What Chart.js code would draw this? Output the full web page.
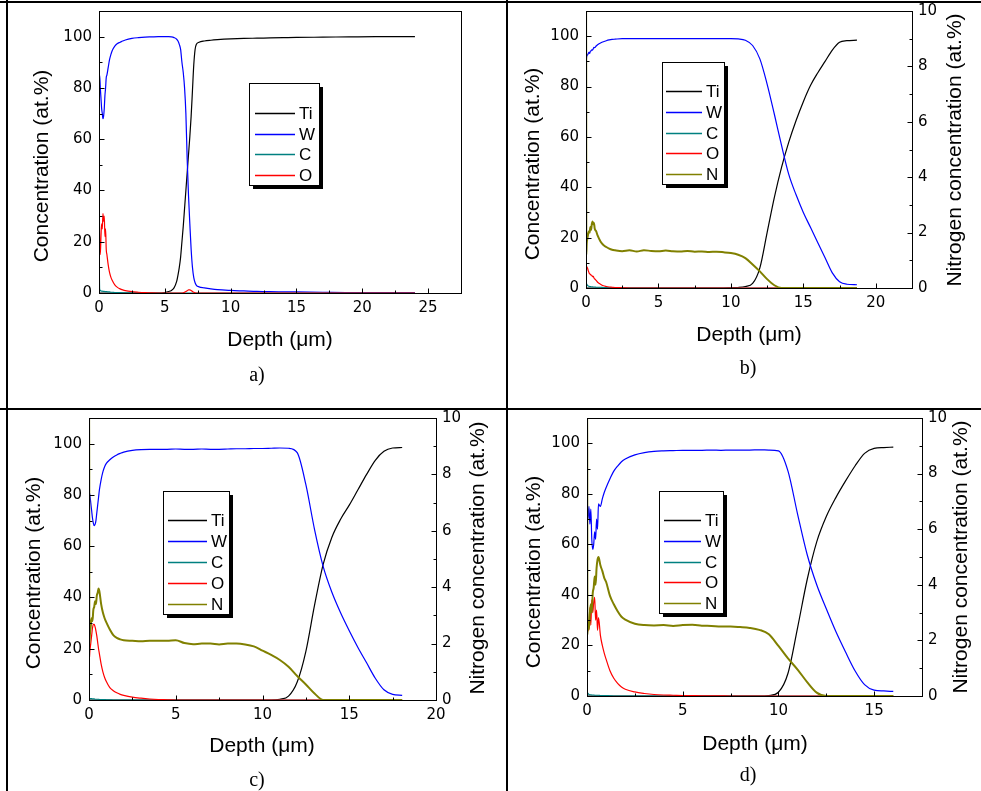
<!DOCTYPE html>
<html>
<head>
<meta charset="utf-8">
<script src="https://cdn.jsdelivr.net/npm/chart.js@4.4.1/dist/chart.umd.min.js"></script>
<style>
  body { margin: 0; background: #fff; }
  #page { position: relative; width: 981px; height: 791px; overflow: hidden; background: #fff; }
  #page canvas { position: absolute; }
  .rule { position: absolute; background: #000; }
</style>
</head>
<body>
<div id="page">
  <canvas id="chart-a" width="507" height="408" style="left:0;top:0"></canvas>
  <canvas id="chart-b" width="474" height="408" style="left:507px;top:0"></canvas>
  <canvas id="chart-c" width="507" height="383" style="left:0;top:408px"></canvas>
  <canvas id="chart-d" width="474" height="383" style="left:507px;top:408px"></canvas>
  <div class="rule" style="left:0;top:1px;width:981px;height:2px"></div>
  <div class="rule" style="left:6px;top:0;width:2px;height:791px"></div>
  <div class="rule" style="left:506px;top:0;width:2px;height:791px"></div>
  <div class="rule" style="left:0;top:408px;width:981px;height:2px"></div>
</div>
<script>
// ---- a) Ti substrate with W layer (depth in um, concentration in at.%)
const aDepth = [0, 0.01, 0.05, 0.1, 0.15, 0.2, 0.25, 0.3, 0.35, 0.4,
  0.45, 0.5, 0.55, 0.6, 0.7, 0.8, 0.9, 1.0, 1.2, 1.4,
  1.6, 1.8, 2.0, 2.5, 3.0, 3.5, 4.0, 4.5, 5.0, 5.3,
  5.5, 5.7, 5.9, 6.0, 6.1, 6.2, 6.3, 6.4, 6.5, 6.6,
  6.7, 6.8, 6.9, 7.0, 7.1, 7.2, 7.3, 7.4, 7.6, 8.0,
  8.5, 9, 10, 11, 12, 13, 14, 15, 17, 19,
  21, 24];
const aTi = [0, 0, 0, 0, 0, 0, 0, 0, 0, 0,
  0, 0, 0, 0, 0, 0, 0, 0, 0, 0,
  0, 0, 0, 0, 0, 0, 0, 0, 0.2, 0.6,
  1, 2, 4.5, 7, 10, 14, 20, 26, 33, 40,
  47, 54, 61, 69, 79, 89, 95, 97, 97.8, 98.3,
  98.6, 98.8, 99.1, 99.3, 99.4, 99.5, 99.6, 99.7, 99.8, 99.9,
  100, 100];
const aW = [0, 82, 85, 80, 76, 72, 70, 68, 69, 72,
  77, 80, 84, 85, 88, 91, 93, 94.5, 96.3, 97.3,
  97.8, 98.3, 98.7, 99.3, 99.6, 99.8, 99.9, 100, 100, 100,
  99.9, 99.6, 99, 98.3, 97, 95, 90, 86, 80, 70,
  52, 38, 27, 17, 10, 6, 4, 3, 2.4, 2,
  1.6, 1.3, 1, 0.8, 0.6, 0.5, 0.45, 0.4, 0.3, 0.2,
  0.2, 0.2];
const aC = [0, 12, 1.5, 1, 0.8, 0.7, 0.7, 0.6, 0.6, 0.6,
  0.5, 0.5, 0.5, 0.5, 0.4, 0.4, 0.3, 0.3, 0.2, 0.2,
  0.15, 0.1, 0.1, 0.1, 0.05, 0, 0, 0, 0, 0,
  0, 0, 0, 0, 0, 0, 0, 0, 0, 0,
  0, 0, 0, 0, 0, 0, 0, 0, 0, 0,
  0, 0, 0, 0, 0, 0, 0, 0, 0, 0,
  0, 0];
const aO = [0, 38, 20, 15, 22, 27, 25, 31, 28, 30,
  22, 25, 17, 15, 11, 8, 6.2, 5, 3.2, 2.2,
  1.6, 1.2, 0.9, 0.5, 0.3, 0.15, 0.05, 0, 0, 0,
  0, 0, 0, 0, 0, 0, 0, 0.1, 0.3, 0.6,
  0.9, 1.2, 1.2, 1, 0.6, 0.3, 0.1, 0, 0, 0,
  0, 0, 0, 0, 0, 0, 0, 0, 0, 0,
  0, 0];

// ---- b)
const bDepth = [0, 0.01, 0.02, 0.05, 0.1, 0.15, 0.2, 0.25, 0.3, 0.35,
  0.4, 0.45, 0.5, 0.55, 0.6, 0.7, 0.8, 0.9, 1.0, 1.2,
  1.4, 1.6, 1.8, 2.0, 2.5, 3, 3.5, 4, 4.5, 5,
  5.5, 6, 6.5, 7, 7.5, 8, 8.5, 9, 9.5, 10,
  10.5, 11, 11.5, 12, 12.5, 13, 13.5, 14, 14.5, 15,
  15.5, 16, 16.5, 17, 17.5, 18, 18.7];
const bTi = [0, 0, 0, 0, 0, 0, 0, 0, 0, 0,
  0, 0, 0, 0, 0, 0, 0, 0, 0, 0,
  0, 0, 0, 0, 0, 0, 0, 0, 0, 0,
  0, 0, 0, 0, 0, 0, 0, 0, 0, 0.1,
  0.2, 0.6, 1.8, 8, 22, 36, 48, 58, 66.5, 74,
  80.5, 85.5, 90, 94.5, 97.6, 98.2, 98.4];
const bW = [0, 75, 89, 92, 92.5, 93, 93.6, 93.2, 94, 94.2,
  94.6, 94.5, 95, 95.6, 95.4, 96.1, 96.6, 97, 97.3, 97.8,
  98.2, 98.5, 98.7, 98.8, 99, 99, 99, 99, 99, 99,
  99, 99, 99, 99, 99, 99, 99, 99, 99, 99,
  98.9, 98.4, 96.3, 91, 81, 69, 56.5, 45, 37, 30,
  24, 18, 12, 6, 2.5, 1.5, 1.3];
const bC = [0, 15, 3, 1.5, 1, 0.8, 0.7, 0.6, 0.6, 0.5,
  0.5, 0.5, 0.4, 0.4, 0.4, 0.3, 0.3, 0.3, 0.3, 0.2,
  0.2, 0.15, 0.1, 0.1, 0, 0, 0, 0, 0, 0,
  0, 0, 0, 0, 0, 0, 0, 0, 0, 0,
  0, 0, 0, 0, 0, 0, 0, 0, 0, 0,
  0, 0, 0, 0, 0, 0, 0];
const bO = [0, 72, 9, 8.5, 8, 7, 6.2, 5.6, 5.5, 5.1,
  5, 4.5, 4.6, 4, 3.6, 3, 2.3, 1.9, 1.5, 0.9,
  0.6, 0.4, 0.3, 0.2, 0.1, 0, 0, 0, 0, 0,
  0, 0, 0, 0, 0, 0, 0, 0, 0, 0,
  0, 0, 0, 0, 0, 0, 0, 0, 0, 0,
  0, 0, 0, 0, 0, 0, 0];
const bN = [0, 12, 1.2, 1.6, 1.8, 1.95, 2.05, 2, 2.2, 2.1,
  2.3, 2.4, 2.3, 2.35, 2.15, 2.05, 1.9, 1.78, 1.68, 1.55,
  1.48, 1.42, 1.38, 1.36, 1.33, 1.36, 1.32, 1.36, 1.34, 1.33,
  1.35, 1.33, 1.32, 1.34, 1.31, 1.32, 1.3, 1.31, 1.29, 1.26,
  1.2, 1.08, 0.85, 0.6, 0.32, 0.1, 0, 0, 0, 0,
  0, 0, 0, 0, 0, 0, 0];

// ---- c)
const cDepth = [0, 0.01, 0.02, 0.05, 0.1, 0.15, 0.2, 0.25, 0.3, 0.35,
  0.4, 0.45, 0.5, 0.55, 0.6, 0.7, 0.8, 0.9, 1.0, 1.2,
  1.4, 1.6, 1.8, 2.0, 2.5, 3, 3.5, 4, 4.5, 5,
  5.5, 6, 6.5, 7, 7.5, 8, 8.5, 9, 9.5, 10,
  10.5, 11, 11.5, 12, 12.5, 13, 13.5, 14, 14.5, 15,
  15.5, 16, 16.5, 17, 17.5, 18.05];
const cTi = [0, 0, 0, 0, 0, 0, 0, 0, 0, 0,
  0, 0, 0, 0, 0, 0, 0, 0, 0, 0,
  0, 0, 0, 0, 0, 0, 0, 0, 0, 0,
  0, 0, 0, 0, 0, 0, 0, 0, 0, 0,
  0, 0.3, 1.5, 7, 19, 37, 53, 63.5, 70.5, 76,
  82, 88, 93.5, 97, 98.3, 98.5];
const cW = [0, 78, 81, 80, 77, 74, 71, 69, 68, 68.5,
  70, 73, 76, 79, 82, 86, 89, 91, 92.3, 93.7,
  94.8, 95.6, 96.2, 96.7, 97.4, 97.7, 97.8, 97.8, 97.8, 97.9,
  97.8, 97.8, 97.9, 97.8, 97.8, 97.9, 98, 98, 98.1, 98.1,
  98.2, 98.3, 98.2, 96.5, 84, 66.5, 52, 42, 34, 27,
  20.5, 14.5, 8.5, 4, 2.2, 1.8];
const cC = [0, 10, 1, 0.6, 0.5, 0.5, 0.4, 0.4, 0.4, 0.3,
  0.3, 0.3, 0.3, 0.3, 0.2, 0.2, 0.2, 0.2, 0.1, 0.1,
  0, 0, 0, 0, 0, 0, 0, 0, 0, 0,
  0, 0, 0, 0, 0, 0, 0, 0, 0, 0,
  0, 0, 0, 0, 0, 0, 0, 0, 0, 0,
  0, 0, 0, 0, 0, 0];
const cO = [0, 45, 16, 19, 22, 25, 28, 29.5, 29.5, 28.5,
  27, 25, 22.5, 20, 18, 14, 11, 8.8, 7.2, 4.8,
  3.6, 2.8, 2.2, 1.8, 1.1, 0.7, 0.4, 0.2, 0.1, 0,
  0, 0, 0, 0, 0, 0, 0, 0, 0, 0,
  0, 0, 0, 0, 0, 0, 0, 0, 0, 0,
  0, 0, 0, 0, 0, 0];
const cN = [0, 12, 2, 2.3, 2.6, 2.9, 2.8, 3.2, 3.3, 3.5,
  3.4, 3.7, 3.8, 3.95, 3.85, 3.4, 3.1, 2.9, 2.75, 2.5,
  2.3, 2.2, 2.15, 2.12, 2.1, 2.08, 2.1, 2.1, 2.1, 2.12,
  2.02, 1.98, 2, 2, 1.97, 2, 2, 1.97, 1.9, 1.75,
  1.6, 1.42, 1.18, 0.85, 0.55, 0.23, 0, 0, 0, 0,
  0, 0, 0, 0, 0, 0];

// ---- d)
const dDepth = [0, 0.01, 0.02, 0.05, 0.1, 0.15, 0.2, 0.25, 0.3, 0.35,
  0.4, 0.45, 0.5, 0.55, 0.6, 0.7, 0.8, 0.9, 1.0, 1.2,
  1.4, 1.6, 1.8, 2.0, 2.5, 3, 3.5, 4, 4.5, 5,
  5.5, 6, 6.5, 7, 7.5, 8, 8.5, 9, 9.5, 10,
  10.5, 11, 11.5, 12, 12.5, 13, 13.5, 14, 14.5, 15,
  15.5, 16];
const dTi = [0, 0, 0, 0, 0, 0, 0, 0, 0, 0,
  0, 0, 0, 0, 0, 0, 0, 0, 0, 0,
  0, 0, 0, 0, 0, 0, 0, 0, 0, 0,
  0, 0, 0, 0, 0, 0, 0, 0, 0.2, 1.5,
  9, 27, 46, 61, 71, 78.5, 85, 91, 96, 98,
  98.3, 98.5];
const dW = [0, 55, 72, 70, 75, 68, 74, 62, 58, 60,
  65, 62, 70, 66, 76, 75, 78, 80.5, 82.5, 86,
  89, 91, 92.7, 93.8, 95.4, 96.3, 96.8, 97, 97.1, 97.2,
  97.2, 97.2, 97.3, 97.2, 97.3, 97.3, 97.3, 97.4, 97.3, 97,
  89, 72, 56, 44, 34.5, 25.5, 17.5, 10, 4.5, 2.3,
  2, 1.8];
const dC = [0, 12, 2, 1, 0.6, 0.5, 0.5, 0.4, 0.4, 0.4,
  0.3, 0.3, 0.3, 0.3, 0.3, 0.2, 0.2, 0.2, 0.2, 0.1,
  0, 0, 0, 0, 0, 0, 0, 0, 0, 0,
  0, 0, 0, 0, 0, 0, 0, 0, 0, 0,
  0, 0, 0, 0, 0, 0, 0, 0, 0, 0,
  0, 0];
const dO = [0, 45, 24, 30, 26, 35, 28, 38, 33, 37,
  39, 30, 34, 26, 31, 24, 20, 17, 14.5, 10,
  7, 5, 3.6, 2.7, 1.6, 1, 0.6, 0.4, 0.3, 0.2,
  0.15, 0.1, 0.1, 0.05, 0, 0, 0, 0, 0, 0,
  0, 0, 0, 0, 0, 0, 0, 0, 0, 0,
  0, 0];
const dN = [0, 12, 2.2, 2.6, 2.4, 3, 3.3, 3, 3.7, 3.9,
  4.3, 4, 4.6, 4.9, 5, 4.7, 4.5, 4.25, 4.1, 3.6,
  3.3, 3.05, 2.85, 2.75, 2.6, 2.55, 2.54, 2.55, 2.52, 2.55,
  2.56, 2.53, 2.52, 2.5, 2.5, 2.48, 2.45, 2.38, 2.22, 1.8,
  1.35, 0.95, 0.5, 0.12, 0, 0, 0, 0, 0, 0,
  0, 0];

const xTitle = "Depth (\u03bcm)";
const yTitle = "Concentration (at.%)";
const rTitle = "Nitrogen concentration (at.%)";

const colors = { Ti: "#000000", W: "#0000ff", C: "#008080", O: "#ff0000", N: "#808000" };
const drawOrder = { Ti: 5, W: 4, C: 3, O: 2, N: 1 };

const tickFont = { family: "'DejaVu Sans', sans-serif", size: 15 };
const sansFont = "'Liberation Sans', Arial, sans-serif";

const panelDecor = {
  id: "panelDecor",
  afterDatasetsDraw(chart, args, o) {
    const { ctx, chartArea: a, scales } = chart;
    ctx.save();
    ctx.strokeStyle = "#000";
    ctx.lineWidth = 1;
    const l = Math.round(a.left) + 0.5, t = Math.round(a.top) + 0.5;
    const r = Math.round(a.right) + 0.5, b = Math.round(a.bottom) + 0.5;
    ctx.strokeRect(l, t, r - l, b - t);

    // inward major + minor ticks
    ctx.beginPath();
    const xs = scales.x;
    for (let k = 0; k * o.xMinor <= xs.max + 1e-6; k++) {
      const px = Math.round(xs.getPixelForValue(k * o.xMinor)) + 0.5;
      ctx.moveTo(px, b);
      ctx.lineTo(px, b - (k % 2 === 0 ? 5 : 3));
    }
    const ys = scales.y;
    for (let k = 0; k * 10 <= 100; k++) {
      const py = Math.round(ys.getPixelForValue(k * 10)) + 0.5;
      ctx.moveTo(l, py);
      ctx.lineTo(l + (k % 2 === 0 ? 5 : 3), py);
    }
    if (scales.y2) {
      const rs = scales.y2;
      for (let k = 0; k <= 10; k++) {
        const py = Math.round(rs.getPixelForValue(k)) + 0.5;
        ctx.moveTo(r, py);
        ctx.lineTo(r - (k % 2 === 0 ? 5 : 3), py);
      }
    }
    ctx.stroke();

    // axis titles
    ctx.fillStyle = "#000";
    ctx.font = "21px " + sansFont;
    ctx.textAlign = "center";
    ctx.textBaseline = "middle";
    ctx.fillText(xTitle, o.xTitle[0], o.xTitle[1]);
    ctx.save();
    ctx.translate(o.yTitle[0], o.yTitle[1]);
    ctx.rotate(-Math.PI / 2);
    ctx.fillText(yTitle, 0, 0);
    ctx.restore();
    if (o.rTitle) {
      ctx.save();
      ctx.translate(o.rTitle[0], o.rTitle[1]);
      ctx.rotate(-Math.PI / 2);
      ctx.fillText(rTitle, 0, 0);
      ctx.restore();
    }

    // panel tag
    ctx.font = "20px 'Liberation Serif', 'Times New Roman', serif";
    ctx.fillText(o.tag[0], o.tag[1], o.tag[2]);

    // legend with drop shadow
    const lg = o.legend;
    ctx.fillStyle = "#000";
    ctx.fillRect(lg.x + 4, lg.y + 4, lg.w, lg.h);
    ctx.fillStyle = "#fff";
    ctx.fillRect(lg.x, lg.y, lg.w, lg.h);
    ctx.strokeStyle = "#000";
    ctx.strokeRect(lg.x + 0.5, lg.y + 0.5, lg.w, lg.h);
    ctx.font = "17px " + sansFont;
    ctx.textAlign = "left";
    chart.data.datasets.forEach((ds, i) => {
      const y = Math.round(lg.firstY + i * lg.gap) + 0.5;
      ctx.strokeStyle = ds.borderColor;
      ctx.lineWidth = 1.5;
      ctx.beginPath();
      ctx.moveTo(lg.x1, y);
      ctx.lineTo(lg.x2, y);
      ctx.stroke();
      ctx.fillStyle = "#000";
      ctx.fillText(ds.label, lg.tx, y + 1);
    });
    ctx.restore();
  }
};

function makePanel(id, depth, series, xMax, area, decor) {
  const canvas = document.getElementById(id);
  const W = canvas.width, H = canvas.height;
  const hasN = series.some(s => s.label === "N");
  const datasets = series.map(s => ({
    label: s.label,
    data: depth.map((d, i) => ({ x: d, y: s.values[i] })),
    borderColor: colors[s.label],
    borderWidth: s.label === "N" ? 2 : 1.2,
    yAxisID: s.label === "N" ? "y2" : "y",
    order: drawOrder[s.label],
    pointRadius: 0,
    cubicInterpolationMode: "monotone"
  }));
  const scales = {
    x: {
      type: "linear", min: 0, max: xMax,
      ticks: { stepSize: 5, includeBounds: false, padding: 6, maxRotation: 0, color: "#000", font: tickFont },
      grid: { display: false, drawTicks: false },
      border: { display: false },
      afterFit(s) { s.height = H - area.bottom; s.paddingLeft = 0; s.paddingRight = 0; }
    },
    y: {
      type: "linear", position: "left", min: 0, max: 110,
      ticks: { stepSize: 20, includeBounds: false, padding: 7, color: "#000", font: tickFont },
      grid: { display: false, drawTicks: false },
      border: { display: false },
      afterFit(s) { s.width = area.left; s.paddingTop = 0; s.paddingBottom = 0; }
    }
  };
  if (hasN) {
    scales.y2 = {
      type: "linear", position: "right", min: 0, max: 10,
      ticks: { stepSize: 2, padding: 6, color: "#000", font: tickFont },
      grid: { display: false, drawTicks: false },
      border: { display: false },
      afterFit(s) { s.width = W - area.right; s.paddingTop = 0; s.paddingBottom = 0; }
    };
  }
  return new Chart(canvas, {
    type: "line",
    data: { datasets },
    options: {
      responsive: false,
      animation: false,
      layout: { padding: { top: area.top, left: 0, bottom: 0, right: hasN ? 0 : W - area.right } },
      plugins: { legend: { display: false }, tooltip: { enabled: false }, panelDecor: decor },
      scales
    },
    plugins: [panelDecor]
  });
}

makePanel("chart-a", aDepth, [
  { label: "Ti", values: aTi }, { label: "W", values: aW },
  { label: "C", values: aC }, { label: "O", values: aO }
], 27.5, { left: 99, top: 11, right: 461, bottom: 293 }, {
  xMinor: 2.5, xTitle: [280, 340], yTitle: [42, 166], tag: ["a)", 257, 376],
  legend: { x: 249, y: 83, w: 70, h: 102, firstY: 112.7, gap: 20.8, x1: 255, x2: 295, tx: 299 }
});

makePanel("chart-b", bDepth, [
  { label: "Ti", values: bTi }, { label: "W", values: bW },
  { label: "C", values: bC }, { label: "O", values: bO }, { label: "N", values: bN }
], 22.5, { left: 79, top: 11, right: 405, bottom: 288 }, {
  xMinor: 2.5, xTitle: [242, 335], yTitle: [26, 164], rTitle: [448, 150], tag: ["b)", 241, 369],
  legend: { x: 155, y: 62, w: 62, h: 122, firstY: 90.7, gap: 20.9, x1: 159, x2: 195, tx: 199 }
});

makePanel("chart-c", cDepth, [
  { label: "Ti", values: cTi }, { label: "W", values: cW },
  { label: "C", values: cC }, { label: "O", values: cO }, { label: "N", values: cN }
], 20, { left: 89, top: 10, right: 436, bottom: 292 }, {
  xMinor: 2.5, xTitle: [262, 338], yTitle: [34, 165], rTitle: [478, 150], tag: ["c)", 257, 373],
  legend: { x: 163, y: 83, w: 66, h: 123, firstY: 112.3, gap: 20.9, x1: 168, x2: 207, tx: 211 }
});

makePanel("chart-d", dDepth, [
  { label: "Ti", values: dTi }, { label: "W", values: dW },
  { label: "C", values: dC }, { label: "O", values: dO }, { label: "N", values: dN }
], 17.5, { left: 80, top: 10, right: 415, bottom: 288 }, {
  xMinor: 2.5, xTitle: [248, 336], yTitle: [27, 164], rTitle: [454, 149], tag: ["d)", 241, 368],
  legend: { x: 152, y: 83, w: 64, h: 122, firstY: 112, gap: 20.75, x1: 157, x2: 194, tx: 198 }
});
</script>
</body>
</html>
